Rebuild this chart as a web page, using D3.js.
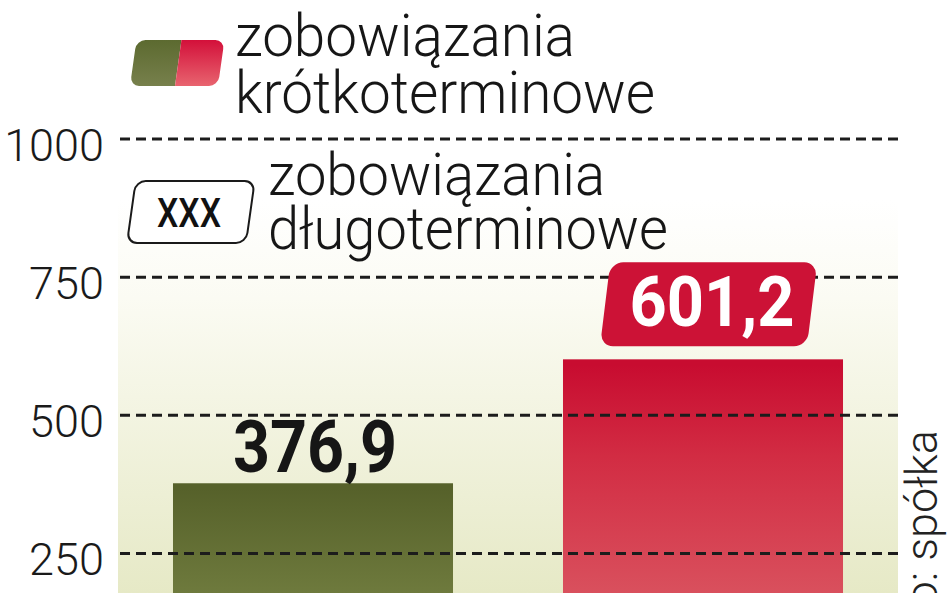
<!DOCTYPE html>
<html>
<head>
<meta charset="utf-8">
<script src="https://cdn.jsdelivr.net/npm/d3@7"></script>
<style>
    body { margin: 0; background: #fff; }
    svg { display: block; }
</style>
</head>
<body>
<svg id="canvas" width="948" height="593"></svg>
<script>
var categories = ['krótkoterminowe', 'długoterminowe'];
var values = [376.9, 601.2];
var valueLabels = ['376,9', '601,2'];
var tickValues = [250, 500, 750, 1000];
var tickLabels = ['250', '500', '750', '1000'];
var legendLines = [['zobowiązania', 'krótkoterminowe'], ['zobowiązania', 'długoterminowe']];
var sourceText = 'Źródło: spółka';

function drawChart() {
    "use strict";

    var svg = d3.select(document.getElementById('canvas'));
    var defs = svg.append('defs');
    var lightFont = 'Roboto, "DejaVu Sans", sans-serif';

    var x = d3.scaleBand()
        .domain(categories)
        .range([118, 898])
        .paddingInner(0.282)
        .paddingOuter(0.141);

    var y = d3.scaleLinear()
        .domain([0, 1000])
        .range([691.5, 139]);

    // gradients
    function vGrad(id, stops, y1, y2) {
        var g = defs.append('linearGradient')
            .attr('id', id)
            .attr('gradientUnits', 'userSpaceOnUse')
            .attr('x1', 0).attr('x2', 0)
            .attr('y1', y1).attr('y2', y2);
        stops.forEach(function(s) {
            g.append('stop').attr('offset', s[0]).attr('stop-color', s[1]);
        });
    }
    vGrad('panelGrad', [[0, '#ffffff'], [0.25, '#fbfbf3'], [1, '#e6e9c6']], 200, 593);
    vGrad('greenGrad', [[0, '#56612a'], [1, '#6e7a3d']], 488, 593);
    vGrad('redGrad', [[0, '#c80c30'], [0.4, '#d22c43'], [1, '#d9505d']], 365, 593);
    vGrad('legGreen', [[0, '#5c6a30'], [1, '#77804c']], 40, 86);
    vGrad('legRed', [[0, '#d3103a'], [1, '#e8646f']], 40, 86);

    // background panel
    svg.append('rect')
        .attr('x', 118)
        .attr('y', 138)
        .attr('width', 780)
        .attr('height', 593 - 138)
        .attr('fill', 'url(#panelGrad)');

    // bars
    svg.selectAll('rect.bar')
        .data(values)
        .enter().append('rect')
        .attr('class', 'bar')
        .attr('x', function(d, i) { return x(categories[i]); })
        .attr('y', function(d) { return y(d); })
        .attr('width', x.bandwidth())
        .attr('height', function(d) { return y(0) - y(d); })
        .attr('fill', function(d, i) { return i === 0 ? 'url(#greenGrad)' : 'url(#redGrad)'; });

    // dashed grid lines
    svg.selectAll('line.grid')
        .data(tickValues)
        .enter().append('line')
        .attr('class', 'grid')
        .attr('x1', 120)
        .attr('x2', 900)
        .attr('y1', function(d) { return y(d); })
        .attr('y2', function(d) { return y(d); })
        .attr('stroke', '#1c1c1c')
        .attr('stroke-width', 3)
        .attr('stroke-dasharray', '10,6');

    // tick labels
    svg.selectAll('text.tick')
        .data(tickValues)
        .enter().append('text')
        .attr('class', 'tick')
        .attr('x', 104)
        .attr('y', function(d) { return y(d) + 22; })
        .attr('text-anchor', 'end')
        .attr('font-family', lightFont)
        .attr('font-weight', 300)
        .attr('font-size', 45)
        .attr('fill', '#1a1a1a')
        .text(function(d, i) { return tickLabels[i]; });

    // value label of first bar
    var cx0 = x(categories[0]) + x.bandwidth() / 2;
    svg.append('text')
        .attr('x', cx0 + 2)
        .attr('y', y(values[0]) - 11)
        .attr('text-anchor', 'middle')
        .attr('font-family', 'Roboto, sans-serif')
        .attr('font-weight', 700)
        .attr('font-size', 72)
        .attr('textLength', 164)
        .attr('lengthAdjust', 'spacingAndGlyphs')
        .attr('fill', '#161616')
        .text(valueLabels[0]);

    // value label of second bar, white on red box
    var cx1 = x(categories[1]) + x.bandwidth() / 2;
    var by = y(values[1]) - 97;
    svg.append('rect')
        .attr('x', cx1 - 103)
        .attr('y', by)
        .attr('width', 207)
        .attr('height', 84)
        .attr('rx', 13)
        .attr('fill', '#cc1236')
        .attr('transform', 'translate(' + (by + 84) * Math.tan(7 * Math.PI / 180) + ',0) skewX(-7)');
    svg.append('text')
        .attr('x', cx1 + 9)
        .attr('y', by + 64)
        .attr('text-anchor', 'middle')
        .attr('font-family', 'Roboto, sans-serif')
        .attr('font-weight', 700)
        .attr('font-size', 70)
        .attr('textLength', 165)
        .attr('lengthAdjust', 'spacingAndGlyphs')
        .attr('fill', '#ffffff')
        .text(valueLabels[1]);

    // legend swatches
    var skew = function(yb) { return 'translate(' + yb * Math.tan(8 * Math.PI / 180) + ',0) skewX(-8)'; };
    var sw = svg.append('g').attr('transform', skew(86));
    sw.append('clipPath').attr('id', 'swClip')
        .append('rect').attr('x', 130).attr('y', 40).attr('width', 88).attr('height', 46).attr('rx', 9);
    sw.append('rect').attr('x', 128).attr('y', 38).attr('width', 47).attr('height', 50)
        .attr('fill', 'url(#legGreen)').attr('clip-path', 'url(#swClip)');
    sw.append('rect').attr('x', 175).attr('y', 38).attr('width', 45).attr('height', 50)
        .attr('fill', 'url(#legRed)').attr('clip-path', 'url(#swClip)');

    svg.append('rect')
        .attr('x', 127).attr('y', 181).attr('width', 119).attr('height', 62).attr('rx', 10)
        .attr('fill', '#ffffff')
        .attr('stroke', '#1a1a1a')
        .attr('stroke-width', 2)
        .attr('transform', skew(243));
    svg.append('text')
        .attr('x', 189).attr('y', 227)
        .attr('text-anchor', 'middle')
        .attr('font-family', 'Roboto, sans-serif')
        .attr('font-weight', 500)
        .attr('font-size', 41)
        .attr('textLength', 64)
        .attr('lengthAdjust', 'spacingAndGlyphs')
        .attr('fill', '#111')
        .text('XXX');

    // legend texts
    var legPos = [[235, [56, 113], [340, 420]], [268, [195, 249], [337, 400]]];
    legendLines.forEach(function(lines, i) {
        lines.forEach(function(t, j) {
            svg.append('text')
                .attr('x', legPos[i][0])
                .attr('y', legPos[i][1][j])
                .attr('font-family', lightFont)
                .attr('font-weight', 300)
                .attr('font-size', 60)
                .attr('textLength', legPos[i][2][j])
                .attr('lengthAdjust', 'spacingAndGlyphs')
                .attr('fill', '#161616')
                .text(t);
        });
    });

    // source, rotated (runs off the bottom edge as in the original)
    svg.append('text')
        .attr('transform', 'translate(937,430) rotate(-90)')
        .attr('text-anchor', 'end')
        .attr('font-family', lightFont)
        .attr('font-weight', 300)
        .attr('font-size', 45)
        .attr('fill', '#222')
        .text(sourceText);
}

drawChart();
</script>
</body>
</html>
